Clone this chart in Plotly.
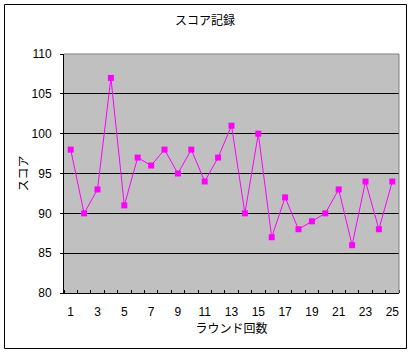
import plotly.graph_objects as go

rounds = list(range(1, 26))
scores = [98, 90, 93, 107, 91, 97, 96, 98, 95, 98, 94, 97, 101, 90, 100,
          87, 92, 88, 89, 90, 93, 86, 94, 88, 94]
x_tick_vals = list(range(1, 26, 2))
y_tick_vals = [80, 85, 90, 95, 100, 105, 110]

title_text = "スコア記録"
x_title = "ラウンド回数"
y_title = "スコア"

W, H = 418, 359
L, R, T, B = 64, 19, 54, 66
pw, ph = W - L - R, H - T - B

def px_x(p):
    return (p - L) / pw

def px_y(p):
    return (H - B - p) / ph

font = "Liberation Sans, Noto Sans CJK JP, sans-serif"

fig = go.Figure()
fig.add_trace(go.Scatter(
    x=rounds, y=scores, mode="lines+markers",
    line=dict(color="#FF00FF", width=1),
    marker=dict(symbol="square", size=6, color="#FF00FF"),
    showlegend=False,
))

fig.update_layout(
    width=W, height=H,
    margin=dict(l=L, r=R, t=T, b=B),
    paper_bgcolor="white",
    plot_bgcolor="#C0C0C0",
    font=dict(family=font, size=12, color="black"),
    title=dict(text=title_text, xref="container", x=205 / W, xanchor="center",
               yref="container", y=1 - 21 / H, yanchor="middle",
               font=dict(family="Noto Sans CJK JP, sans-serif", size=12)),
    xaxis=dict(
        range=[0.5, 25.5], tickvals=x_tick_vals, ticktext=[str(v) for v in x_tick_vals],
        ticks="", showgrid=False, zeroline=False,
        showline=True, linecolor="black", linewidth=1,
        minor=dict(tick0=0.5, dtick=1, ticks="inside", ticklen=3, tickcolor="black", showgrid=False),
        ticklabelstandoff=8,
        title=dict(text=x_title, standoff=4,
                   font=dict(family="Noto Sans CJK JP, sans-serif", size=12)),
    ),
    yaxis=dict(
        range=[80, 110], tickvals=y_tick_vals,
        ticks="outside", ticklen=3, tickcolor="black",
        showgrid=True, gridcolor="black", gridwidth=1,
        zeroline=False, showline=True, linecolor="black", linewidth=1,
        ticklabelstandoff=6,
        title=dict(text=y_title, standoff=0,
                   font=dict(family="Noto Sans CJK JP, sans-serif", size=12)),
    ),
    shapes=[
        dict(type="line", xref="paper", yref="paper", x0=0, x1=1, y0=1, y1=1,
             line=dict(color="#808080", width=1)),
        dict(type="line", xref="paper", yref="paper", x0=1, x1=1, y0=0, y1=1,
             line=dict(color="#808080", width=1)),
        dict(type="rect", xref="paper", yref="paper",
             x0=px_x(4.5), x1=px_x(406.5), y0=px_y(348.5), y1=px_y(4.5),
             line=dict(color="black", width=1), fillcolor="rgba(0,0,0,0)", layer="above"),
    ],
)

fig.write_html("out.html", config={"displayModeBar": False},
               post_script="document.body.style.margin='0';")
